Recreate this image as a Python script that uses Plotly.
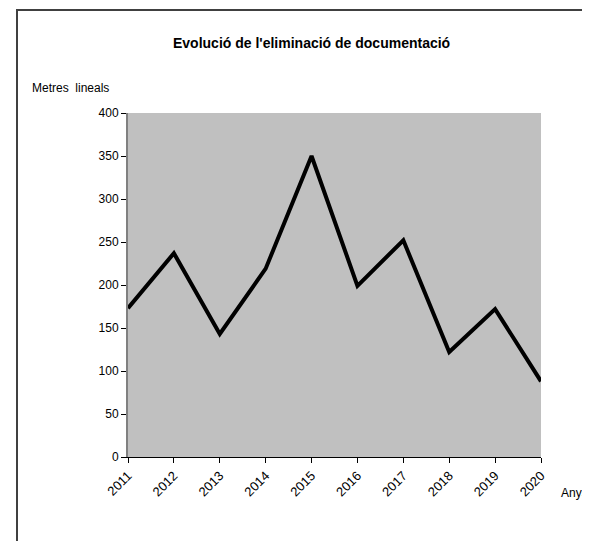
import plotly.graph_objects as go

years = ["2011", "2012", "2013", "2014", "2015", "2016", "2017", "2018", "2019", "2020"]
metres = [173, 237, 143, 219, 350, 199, 252, 122, 172, 88]
y_ticks = [0, 50, 100, 150, 200, 250, 300, 350, 400]

FONT = "Liberation Sans Narrow, Arial Narrow, Liberation Sans, Arial, sans-serif"

fig = go.Figure()
fig.add_trace(go.Scatter(x=years, y=metres, mode="lines",
                         line=dict(color="black", width=4), hoverinfo="x+y"))

OFF = 8  # page body margin offset
W, H = 590 - OFF, 541 - OFF
L, R, T, B = 128 - OFF, 541 - OFF, 113 - OFF, 457 - OFF
pw, ph = R - L, B - T

def px(x):
    return (x - OFF - L) / pw

def py(y):
    return (B - (y - OFF)) / ph

fig.update_layout(
    width=W, height=H, autosize=False,
    margin=dict(l=L, r=W - R, t=T, b=H - B),
    paper_bgcolor="white", plot_bgcolor="#C0C0C0",
    showlegend=False,
    font=dict(family=FONT, size=12, color="black"),
    xaxis=dict(type="category", range=[0, 9], showgrid=False, zeroline=False,
               showline=True, linecolor="black", linewidth=1,
               ticks="outside", ticklen=5, tickcolor="black",
               tickangle=-45, tickfont=dict(size=13, family=FONT)),
    yaxis=dict(range=[0, 400], tickvals=y_ticks, showgrid=False, zeroline=False,
               showline=True, linecolor="#808080", linewidth=2,
               ticks="outside", ticklen=5, tickcolor="black",
               tickfont=dict(size=12, family=FONT)),
    shapes=[dict(type="rect", xref="paper", yref="paper",
                 x0=px(17), x1=px(700), y0=py(10), y1=py(700),
                 line=dict(color="#404040", width=2), fillcolor="rgba(0,0,0,0)",
                 layer="below")],
    annotations=[
        dict(text="<b>Evolució de l'eliminació de documentació</b>", xref="paper", yref="paper",
             x=px(311), y=py(43), xanchor="center", yanchor="middle", showarrow=False,
             font=dict(size=14, family=FONT)),
        dict(text="Metres  lineals", xref="paper", yref="paper",
             x=px(30), y=py(88), xanchor="left", yanchor="middle", showarrow=False,
             font=dict(size=12, family=FONT)),
        dict(text="Anys", xref="paper", yref="paper",
             x=px(559), y=py(493), xanchor="left", yanchor="middle", showarrow=False,
             font=dict(size=12, family=FONT)),
    ],
)

fig.write_html("out.html")
